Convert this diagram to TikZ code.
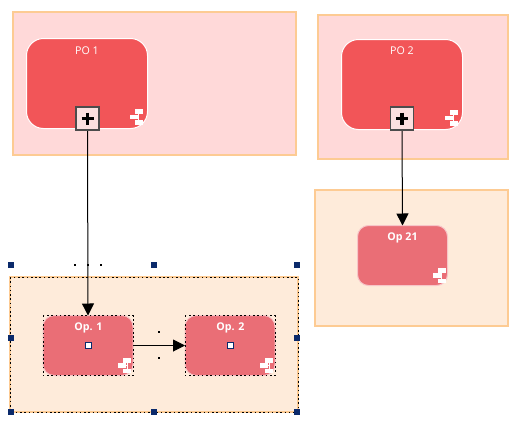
\documentclass[tikz,border=0pt]{standalone}
\usepackage{fontspec}
\setmainfont{Open Sans}
\usetikzlibrary{arrows.meta,calc}
\definecolor{frameline}{HTML}{FDCB93}
\definecolor{pinkbg}{HTML}{FFD9D9}
\definecolor{peachbg}{HTML}{FEEBDA}
\definecolor{poblock}{HTML}{F25558}
\definecolor{opblock}{HTML}{EA6E76}
\definecolor{handle}{HTML}{0B2A6B}
\definecolor{expfill}{HTML}{FBDFDF}
\tikzset{
  boxsize/.style 2 args={minimum width=#1*0.75pt,minimum height=#2*0.75pt},
  base/.style={inner sep=0pt,outer sep=0pt,anchor=center},
  frameA/.style={base,draw=frameline,line width=1.5*0.75pt,fill=pinkbg},
  frameB/.style={base,draw=frameline,line width=1.5*0.75pt,fill=peachbg},
  poB/.style={base,draw=white,line width=0.75pt,fill=poblock,rounded corners=17*0.75pt,boxsize={121}{90}},
  opB/.style={base,draw=white!60!opblock,line width=0.75pt,fill=opblock,rounded corners=11*0.75pt,boxsize={90}{60}},
  expander/.style={base,draw=black!70,line width=1.5*0.75pt,fill=expfill,boxsize={23}{23}},
  plusmark/.style={draw=black,line width=3.5*0.75pt},
  ptitle/.style={base,text=white,font=\fontsize{8pt}{9pt}\selectfont},
  otitle/.style={base,text=white,font=\fontsize{8pt}{9pt}\selectfont\bfseries},
  conn/.style={draw=black,line width=0.75pt,-{Triangle[length=12*0.75pt,width=12*0.75pt]}},
  seldash/.style={draw=black,line width=0.9*0.75pt,dash pattern=on 1.2pt off 2pt},
  selhandle/.style={base,fill=handle,boxsize={6.5}{6.5}},
  portmark/.style={base,draw=handle,line width=0.75pt,fill=white,boxsize={6}{6}},
  speck/.style={base,fill=black,boxsize={2}{2}},
  iconbar/.style={fill=white},
  iconlink/.style={draw=white,line width=0.75pt},
  pics/subicon/.style={code={
    \draw[iconlink] (-6,-15.5) -- (-6,-5) (-11,-10) -- (-6,-10);
    \fill[iconbar] (-10,-18) rectangle (-2,-13);
    \fill[iconbar] (-15,-12.5) rectangle (-7,-8);
    \fill[iconbar] (-10,-7) rectangle (-2,-2.5);
  }}
}
\begin{document}
\begin{tikzpicture}[x=0.75pt,y=-0.75pt]
\useasboundingbox (0,0) rectangle (515,422);
% frames
\node[frameA,boxsize={283}{143}] (fpo1) at (154.5,83.5) {};
\node[frameA,boxsize={190}{144}] (fpo2) at (413,87) {};
\node[frameB,boxsize={193}{136}] (fop21) at (411.5,258) {};
\node[frameB,boxsize={288}{135}] (fop) at (154,344.5) {};
% blocks
\node[poB] (po1) at (87,83.5) {};
\node[poB] (po2) at (402,84.5) {};
\node[opB] (op21) at (402.5,255.5) {};
\node[opB] (op1) at (88,345.5) {};
\node[opB] (op2) at (230,345.5) {};
% block titles
\node[ptitle] (tpo1) at (87,50.5) {PO 1};
\node[ptitle] (tpo2) at (402,51) {PO 2};
\node[otitle] (top21) at (402.5,238) {Op 21};
\node[otitle] (top1) at (88.5,328) {Op. 1};
\node[otitle] (top2) at (230.5,328) {Op. 2};
% sub-process icons
\path (po1.south east) ++(-3,-1.5) pic {subicon};
\path (po2.south east) ++(-3,-1.5) pic {subicon};
\path (op21.south east) pic {subicon};
\path (op1.south east) pic {subicon};
\path (op2.south east) pic {subicon};
% connectors
\draw[conn] (87.5,130) coordinate (c1) -- (op1.north);
\draw[conn] (402,130) coordinate (c2) -- (op21.north);
\draw[conn] (op1.east) -- (op2.west);
% expanders
\node[expander] (e1) at (87.5,118.5) {};
\node[expander] (e2) at (402,118.5) {};
\foreach \e in {e1,e2}{
  \draw[plusmark] ($(\e.center)+(-6,0)$) -- ($(\e.center)+(6,0)$);
  \draw[plusmark] ($(\e.center)+(0,-6)$) -- ($(\e.center)+(0,6)$);
}
% selection
\draw[seldash] (fop.north west) rectangle (fop.south east);
\draw[seldash] (op1.north west) rectangle (op1.south east);
\draw[seldash] (op2.north west) rectangle (op2.south east);
\node[selhandle] (h1) at (11,265) {};
\node[selhandle] (h2) at (154,265) {};
\node[selhandle] (h3) at (297,265) {};
\node[selhandle] (h4) at (11,338) {};
\node[selhandle] (h5) at (297,338) {};
\node[selhandle] (h6) at (11,412) {};
\node[selhandle] (h7) at (154,412) {};
\node[selhandle] (h8) at (297,412) {};
\node[portmark] (p1) at (88,345.5) {};
\node[portmark] (p2) at (230,345.5) {};
\node[speck] (s1) at (74.5,265) {};
\node[speck] (s2) at (88,265) {};
\node[speck] (s3) at (101,265) {};
\node[speck] (s4) at (159,332) {};
\node[speck] (s5) at (159,358) {};
\end{tikzpicture}
\end{document}
